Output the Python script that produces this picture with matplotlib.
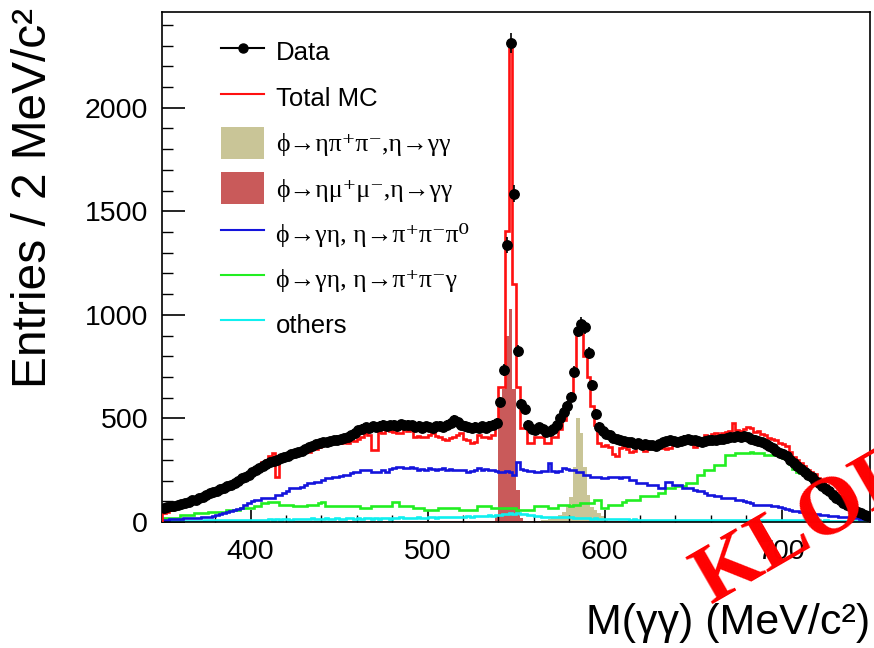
import numpy as np
import matplotlib
matplotlib.use("Agg")
import matplotlib.pyplot as plt
from matplotlib.ticker import MultipleLocator
from matplotlib.lines import Line2D
from matplotlib.patches import Patch

plt.rcParams['font.family'] = ['Liberation Sans', 'DejaVu Sans']

# ---------------- data (2 MeV bins from 350 to 750 MeV) ----------------
bin_low = 350.0
bin_width = 2.0

data_counts = [
    66, 70, 75, 78, 84, 88, 92, 98, 104, 108,
    115, 120, 128, 138, 145, 150, 158, 165, 172, 180,
    190, 198, 210, 218, 228, 240, 250, 262, 272, 282,
    290, 295, 300, 310, 315, 320, 328, 332, 340, 345,
    352, 360, 365, 375, 382, 385, 388, 392, 396, 398,
    402, 405, 410, 420, 432, 444, 450, 458, 455, 462,
    460, 465, 470, 462, 468, 470, 465, 472, 466, 470,
    468, 460, 465, 455, 462, 458, 455, 462, 465, 460,
    470, 480, 492, 485, 470, 465, 458, 452, 460, 455,
    462, 455, 465, 470, 480, 577, 734, 1337, 2312, 1585,
    825, 569, 545, 470, 450, 445, 458, 450, 436, 440,
    450, 468, 500, 532, 560, 602, 725, 924, 957, 940,
    817, 661, 521, 460, 440, 425, 420, 405, 400, 395,
    392, 388, 385, 378, 380, 372, 376, 370, 372, 368,
    378, 385, 390, 395, 390, 388, 392, 398, 402, 398,
    394, 392, 388, 390, 394, 398, 395, 400, 402, 405,
    408, 410, 414, 410, 415, 408, 402, 398, 392, 385,
    375, 365, 355, 345, 335, 328, 318, 300, 285, 270,
    255, 242, 228, 215, 200, 188, 175, 160, 148, 132,
    118, 105, 92, 80, 70, 60, 50, 42, 35, 28,
]

total_mc = [
    43, 50, 58, 68, 75, 82, 90, 98, 105, 110,
    116, 120, 128, 135, 140, 148, 152, 160, 164, 172,
    180, 195, 200, 215, 236, 240, 251, 265, 291, 300,
    320, 331, 219, 300, 307, 315, 331, 320, 339, 335,
    347, 340, 355, 350, 363, 370, 379, 395, 403, 380,
    379, 387, 380, 395, 390, 403, 410, 428, 420, 347,
    347, 436, 430, 444, 438, 436, 428, 432, 460, 440,
    484, 412, 415, 410, 412, 420, 428, 415, 412, 400,
    395, 405, 412, 420, 428, 400, 395, 379, 385, 420,
    412, 410, 405, 420, 470, 651, 651, 1404, 2287, 1148,
    651, 453, 453, 380, 380, 412, 412, 412, 380, 380,
    412, 412, 450, 492, 560, 620, 720, 907, 907, 800,
    700, 560, 470, 380, 365, 370, 360, 330, 320, 355,
    360, 350, 339, 345, 363, 355, 345, 360, 380, 372,
    380, 355, 350, 355, 387, 380, 395, 385, 395, 392,
    363, 370, 380, 420, 410, 425, 429, 420, 430, 436,
    440, 480, 444, 440, 450, 460, 455, 436, 440, 425,
    420, 404, 400, 396, 380, 375, 365, 340, 315, 300,
    283, 270, 251, 240, 230, 210, 200, 180, 165, 150,
    140, 120, 107, 90, 80, 66, 55, 45, 34, 26,
]

eta_pipi_gg = [
    0, 0, 0, 0, 0, 0, 0, 0, 0, 0,
    0, 0, 0, 0, 0, 0, 0, 0, 0, 0,
    0, 0, 0, 0, 0, 0, 0, 0, 0, 0,
    0, 0, 0, 0, 0, 0, 0, 0, 0, 0,
    0, 0, 0, 0, 0, 0, 0, 0, 0, 0,
    0, 0, 0, 0, 0, 0, 0, 0, 0, 0,
    0, 0, 0, 0, 0, 0, 0, 0, 0, 0,
    0, 0, 0, 0, 0, 0, 0, 0, 0, 0,
    0, 0, 0, 0, 0, 0, 0, 0, 0, 0,
    0, 0, 0, 0, 0, 0, 0, 0, 0, 0,
    0, 0, 0, 0, 0, 3, 5, 8, 12, 15,
    20, 25, 35, 50, 80, 122, 267, 502, 429, 267,
    130, 70, 58, 45, 30, 12, 5, 3, 2, 0,
    0, 0, 0, 0, 0, 0, 0, 0, 0, 0,
    0, 0, 0, 0, 0, 0, 0, 0, 0, 0,
    0, 0, 0, 0, 0, 0, 0, 0, 0, 0,
    0, 0, 0, 0, 0, 0, 0, 0, 0, 0,
    0, 0, 0, 0, 0, 0, 0, 0, 0, 0,
    0, 0, 0, 0, 0, 0, 0, 0, 0, 0,
    0, 0, 0, 0, 0, 0, 0, 0, 0, 0,
]

eta_mumu_gg = [
    0, 0, 0, 0, 0, 0, 0, 0, 0, 0,
    0, 0, 0, 0, 0, 0, 0, 0, 0, 0,
    0, 0, 0, 0, 0, 0, 0, 0, 0, 0,
    0, 0, 0, 0, 0, 2, 2, 3, 3, 3,
    4, 4, 4, 4, 4, 4, 4, 4, 4, 4,
    4, 4, 4, 4, 4, 4, 4, 4, 4, 4,
    4, 4, 4, 4, 4, 4, 4, 4, 4, 4,
    4, 4, 4, 4, 4, 4, 4, 4, 4, 4,
    4, 4, 4, 4, 4, 4, 4, 4, 4, 4,
    4, 4, 4, 4, 30, 600, 640, 900, 1030, 640,
    154, 20, 4, 4, 4, 4, 4, 4, 4, 4,
    4, 4, 4, 4, 4, 4, 4, 4, 4, 4,
    4, 4, 4, 4, 4, 4, 4, 4, 4, 4,
    4, 4, 4, 4, 4, 4, 4, 4, 4, 4,
    4, 4, 4, 4, 4, 4, 4, 4, 4, 4,
    4, 4, 3, 3, 3, 3, 2, 2, 2, 2,
    0, 0, 0, 0, 0, 0, 0, 0, 0, 0,
    0, 0, 0, 0, 0, 0, 0, 0, 0, 0,
    0, 0, 0, 0, 0, 0, 0, 0, 0, 0,
    0, 0, 0, 0, 0, 0, 0, 0, 0, 0,
]

eta_3pi = [
    12, 12, 14, 14, 16, 16, 18, 18, 18, 20,
    20, 22, 24, 26, 30, 34, 38, 42, 46, 52,
    58, 62, 66, 80, 90, 100, 106, 106, 114, 114,
    114, 114, 130, 130, 138, 150, 164, 164, 164, 170,
    180, 188, 188, 195, 195, 205, 212, 212, 219, 219,
    222, 227, 227, 235, 243, 243, 251, 251, 251, 243,
    243, 243, 250, 243, 255, 259, 267, 267, 262, 259,
    267, 262, 251, 256, 251, 259, 255, 251, 255, 259,
    251, 255, 251, 251, 251, 251, 243, 248, 251, 259,
    251, 255, 251, 251, 248, 243, 243, 245, 243, 227,
    291, 256, 251, 246, 246, 243, 243, 246, 246, 283,
    246, 243, 246, 259, 255, 251, 251, 243, 243, 227,
    227, 219, 219, 219, 212, 212, 219, 219, 219, 212,
    219, 219, 204, 204, 188, 188, 188, 180, 180, 180,
    164, 164, 195, 195, 180, 180, 180, 164, 164, 164,
    155, 148, 148, 140, 132, 132, 124, 124, 116, 116,
    116, 116, 107, 107, 100, 98, 90, 82, 82, 82,
    82, 80, 75, 75, 70, 66, 62, 58, 55, 52,
    50, 46, 42, 42, 40, 38, 34, 34, 30, 28,
    28, 26, 24, 22, 20, 18, 18, 16, 16, 14,
]

eta_pipig = [
    18, 18, 18, 18, 18, 34, 34, 34, 34, 42,
    42, 42, 42, 50, 50, 50, 50, 50, 58, 58,
    58, 58, 66, 66, 66, 66, 75, 75, 90, 90,
    98, 98, 98, 82, 82, 82, 82, 75, 75, 75,
    75, 82, 82, 82, 90, 98, 75, 75, 75, 75,
    78, 78, 78, 78, 78, 78, 66, 66, 66, 75,
    75, 75, 75, 75, 75, 98, 98, 75, 75, 75,
    75, 66, 66, 66, 58, 58, 58, 58, 66, 66,
    66, 66, 66, 66, 58, 58, 58, 58, 58, 75,
    75, 75, 75, 66, 66, 66, 66, 66, 66, 66,
    58, 58, 58, 58, 58, 75, 75, 75, 75, 66,
    66, 66, 80, 80, 82, 75, 80, 82, 90, 90,
    90, 90, 107, 107, 66, 66, 82, 82, 82, 82,
    98, 107, 107, 107, 107, 124, 124, 124, 124, 124,
    140, 140, 164, 164, 164, 172, 172, 172, 188, 188,
    188, 227, 227, 251, 251, 251, 275, 275, 275, 324,
    324, 324, 333, 333, 333, 333, 340, 333, 333, 333,
    324, 324, 324, 324, 324, 307, 307, 280, 255, 243,
    235, 225, 215, 205, 190, 180, 165, 150, 135, 120,
    105, 92, 80, 68, 58, 50, 42, 36, 30, 24,
]

others = [
    5, 5, 5, 6, 6, 6, 6, 7, 7, 7,
    7, 7, 8, 8, 8, 8, 8, 9, 9, 9,
    9, 9, 10, 10, 10, 11, 11, 12, 12, 12,
    14, 10, 16, 12, 14, 16, 12, 15, 14, 16,
    14, 16, 18, 15, 14, 16, 18, 15, 16, 18,
    16, 15, 18, 20, 16, 18, 15, 17, 18, 16,
    18, 16, 20, 18, 16, 20, 18, 22, 18, 20,
    20, 18, 22, 20, 18, 22, 24, 20, 22, 24,
    22, 24, 26, 22, 26, 24, 28, 26, 28, 30,
    28, 30, 32, 30, 34, 36, 38, 40, 42, 40,
    43, 40, 38, 36, 34, 30, 28, 26, 26, 24,
    26, 24, 26, 22, 24, 22, 20, 20, 18, 18,
    18, 16, 18, 16, 16, 14, 15, 14, 14, 13,
    14, 13, 12, 13, 12, 11, 12, 11, 11, 10,
    10, 11, 10, 10, 11, 10, 10, 10, 9, 10,
    10, 9, 10, 10, 9, 10, 9, 10, 10, 9,
    9, 10, 9, 9, 10, 9, 9, 9, 10, 9,
    9, 9, 9, 9, 9, 8, 9, 8, 9, 8,
    8, 8, 8, 8, 8, 8, 7, 8, 7, 7,
    7, 7, 7, 6, 6, 6, 6, 5, 5, 5,
]

labels = [
    "Data",
    "Total MC",
    "ϕ→ηπ⁺π⁻,η→γγ",
    "ϕ→ημ⁺μ⁻,η→γγ",
    "ϕ→γη, η→π⁺π⁻π⁰",
    "ϕ→γη, η→π⁺π⁻γ",
    "others",
]

x_label = "M(γγ) (MeV/c²)"
y_label = "Entries / 2 MeV/c²"
watermark = "KLOE"

# ---------------- styling ----------------
c_tan = "#c9c597"
c_brown = "#c95a5a"
c_blue = "#1414dc"
c_green = "#22ee22"
c_cyan = "#10f0f0"
c_red = "#ff1010"

n = len(data_counts)
edges = bin_low + bin_width * np.arange(n + 1)
centers = bin_low + bin_width * (np.arange(n) + 0.5)
data_arr = np.array(data_counts, dtype=float)

W, H = 874, 648
fig = plt.figure(figsize=(W / 100, H / 100), dpi=100)
ax = fig.add_axes([162 / W, 1 - 522 / H, (870 - 162) / W, (522 - 12) / H])

ax.stairs(eta_pipi_gg, edges, fill=True, color=c_tan, zorder=1)
ax.stairs(eta_mumu_gg, edges, fill=True, color=c_brown, zorder=1.1)
lw = 1.9
ax.stairs(others, edges, color=c_cyan, lw=lw, zorder=2)
ax.stairs(eta_pipig, edges, color=c_green, lw=lw, zorder=2.1)
ax.stairs(eta_3pi, edges, color=c_blue, lw=lw, zorder=2.2)
ax.stairs(total_mc, edges, color=c_red, lw=lw, zorder=3)
ax.errorbar(centers, data_arr, yerr=np.sqrt(data_arr), fmt='o', color='black',
            ms=6.8, elinewidth=1.2, capsize=0, zorder=5)

ax.set_xlim(350, 750)
ax.set_ylim(0, 2462)
ax.xaxis.set_major_locator(MultipleLocator(100))
ax.xaxis.set_minor_locator(MultipleLocator(20))
ax.yaxis.set_major_locator(MultipleLocator(500))
ax.yaxis.set_minor_locator(MultipleLocator(100))
ax.tick_params(axis='x', which='major', direction='in', length=8.6, width=1.2,
               labelsize=20.5, pad=12, top=False)
ax.tick_params(axis='x', which='minor', direction='in', length=4.7, width=1.0, top=False)
ax.tick_params(axis='y', which='major', direction='in', length=16.5, width=1.2,
               labelsize=20.5, pad=10, right=False)
ax.tick_params(axis='y', which='minor', direction='in', length=8, width=1.0, right=False)
for sp in ax.spines.values():
    sp.set_linewidth(1.2)

fig.text(34 / W, 1 - 8 / H, y_label, rotation=90, ha='center', va='top', fontsize=34.5)
fig.text(870 / W, 1 - 634 / H, x_label, ha='right', va='baseline', fontsize=31)

handles = [
    Line2D([], [], color='black', marker='o', ms=6.5, lw=1.5),
    Line2D([], [], color=c_red, lw=1.5),
    Patch(facecolor=c_tan, edgecolor='none'),
    Patch(facecolor=c_brown, edgecolor='none'),
    Line2D([], [], color=c_blue, lw=1.5),
    Line2D([], [], color=c_green, lw=1.5),
    Line2D([], [], color=c_cyan, lw=1.5),
]
leg = ax.legend(handles, labels, loc='upper left', bbox_to_anchor=(0.083, 0.953),
                frameon=False, fontsize=18.5, handlelength=1.7, handleheight=1.54,
                handletextpad=0.45, labelspacing=0.52, borderpad=0, borderaxespad=0)
for t in leg.get_texts()[2:6]:
    t.set_fontfamily(['Liberation Serif', 'DejaVu Serif'])

fig.text(711 / W, 1 - 604 / H, watermark, rotation=30, rotation_mode='anchor', ha='left',
         va='baseline', fontsize=60, fontweight='bold', family='Liberation Serif',
         color='red', zorder=10)

fig.savefig('out.png', dpi=100)
